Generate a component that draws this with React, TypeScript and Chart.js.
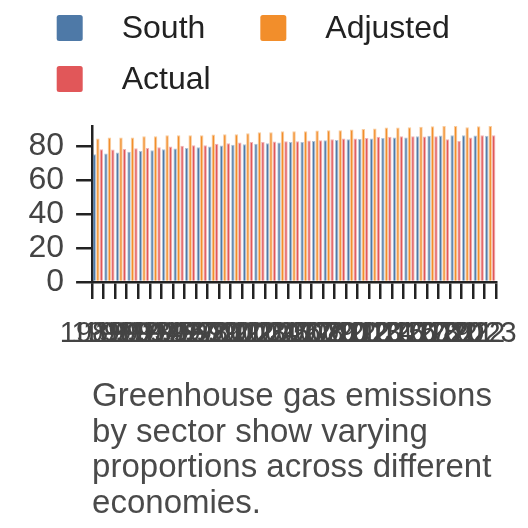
import { useEffect, useRef } from "react";
import { Chart, registerables } from "chart.js";

Chart.register(...registerables);

const YEARS = [
  "1989", "1990", "1991", "1992", "1993", "1994", "1995", "1996", "1997", "1998",
  "1999", "2000", "2001", "2002", "2003", "2004", "2005", "2006", "2007", "2008",
  "2009", "2010", "2011", "2012", "2013", "2014", "2015", "2016", "2017", "2018",
  "2019", "2020", "2021", "2022", "2023",
];

const SOUTH = [
  75.3, 75.7, 76.3, 76.7, 77.1, 77.6, 78.2, 78.6, 79.0, 79.4,
  79.8, 80.4, 80.8, 81.2, 81.4, 81.8, 82.2, 82.5, 82.5, 83.1,
  83.5, 83.7, 84.1, 84.3, 84.5, 84.9, 85.1, 85.1, 85.9, 86.1,
  86.3, 86.5, 86.5, 86.3, 86.1,
];

const ADJUSTED = [
  84.5, 85.1, 85.1, 85.1, 85.9, 85.9, 86.5, 86.5, 86.5, 86.5,
  86.9, 87.1, 87.1, 87.6, 88.2, 88.2, 88.8, 88.8, 88.8, 89.2,
  89.4, 89.4, 89.8, 90.2, 90.4, 91.0, 91.0, 91.2, 91.4, 91.8,
  91.9, 91.9, 91.2, 91.8, 91.9,
];

const ACTUAL = [
  78.2, 78.0, 78.4, 78.8, 79.0, 79.4, 79.8, 80.2, 80.6, 80.6,
  81.4, 81.8, 82.2, 82.4, 82.5, 82.7, 82.9, 82.9, 83.3, 83.5,
  84.1, 84.5, 84.5, 84.9, 85.5, 85.5, 85.9, 85.9, 85.7, 85.9,
  84.1, 83.1, 85.1, 86.5, 86.5,
];

const SERIES_LABELS = ["South", "Adjusted", "Actual"];

const Y_STEP = 20;

const TITLE_LINES = [
  "Greenhouse gas emissions",
  "by sector show varying",
  "proportions across different",
  "economies.",
];

const FONT = '"Liberation Sans", Arial, Helvetica, sans-serif';
const COLORS = ["#4e79a7", "#f28e2b", "#e15759"];
const EDGE_COLORS = [
  "rgba(78,121,167,0.45)",
  "rgba(242,142,43,0.45)",
  "rgba(225,87,89,0.45)",
];

const LEGEND = {
  left: 48.7,
  top: 7,
  box: 26,
  textGap: 39,
  baseline: 23.3,
  rowStep: 51,
  itemGap: 55,
  maxRight: 504,
  fontSize: 32,
  color: "#222222",
};

const flowLegend = {
  id: "flowLegend",
  afterDraw(chart: any) {
    const ctx: CanvasRenderingContext2D = chart.ctx;
    ctx.save();
    ctx.font = `${LEGEND.fontSize}px ${FONT}`;
    ctx.textAlign = "left";
    ctx.textBaseline = "alphabetic";
    let x = LEGEND.left;
    let y = LEGEND.top;
    chart.data.datasets.forEach((ds: any) => {
      const label = String(ds.label);
      const w = LEGEND.box + LEGEND.textGap + ctx.measureText(label).width;
      if (x > LEGEND.left && x + w > LEGEND.maxRight) {
        x = LEGEND.left;
        y += LEGEND.rowStep;
      }
      ctx.fillStyle = ds.backgroundColor;
      ctx.beginPath();
      if ((ctx as any).roundRect) {
        (ctx as any).roundRect(x, y, LEGEND.box, LEGEND.box, 2.5);
      } else {
        ctx.rect(x, y, LEGEND.box, LEGEND.box);
      }
      ctx.fill();
      ctx.fillStyle = LEGEND.color;
      ctx.fillText(label, x + LEGEND.box + LEGEND.textGap, y + LEGEND.baseline);
      x += w + LEGEND.itemGap;
    });
    ctx.restore();
  },
};

export default function App() {
  const canvasRef = useRef<HTMLCanvasElement | null>(null);

  useEffect(() => {
    if (!canvasRef.current) return;
    const seriesValues = [SOUTH, ADJUSTED, ACTUAL];
    const dataMax = Math.max(...SOUTH, ...ADJUSTED, ...ACTUAL);
    const chart = new Chart(canvasRef.current, {
      type: "bar",
      data: {
        labels: YEARS,
        datasets: SERIES_LABELS.map((label, i) => ({
          label,
          data: seriesValues[i],
          backgroundColor: COLORS[i],
          borderColor: EDGE_COLORS[i],
          borderWidth: 1,
          categoryPercentage: 0.9,
          barPercentage: 1.0,
        })),
      },
      options: {
        animation: false,
        responsive: true,
        maintainAspectRatio: false,
        layout: { padding: { top: 118, left: 8.5, right: 24, bottom: 0 } },
        font: { family: FONT },
        plugins: {
          legend: { display: false },
          tooltip: { enabled: false },
          title: {
            display: true,
            position: "bottom",
            align: "start",
            fullSize: false,
            text: TITLE_LINES,
            color: "#4a4a4a",
            font: { family: FONT, size: 33, lineHeight: 1.085, weight: "normal" },
            padding: { top: 10, bottom: 1 },
          },
        },
        scales: {
          x: {
            grid: {
              display: true,
              drawOnChartArea: false,
              drawTicks: true,
              tickLength: 17,
              color: "#222222",
              lineWidth: 2.5,
            },
            border: { display: true, color: "#222222", width: 2.5 },
            ticks: {
              autoSkip: false,
              maxRotation: 0,
              minRotation: 0,
              padding: 17.5,
              labelOffset: -5.75,
              color: "#444444",
              font: { family: FONT, size: 29 },
            },
            afterFit(scale: any) {
              scale.paddingLeft = 0;
              scale.paddingRight = 0;
            },
          },
          y: {
            min: 0,
            max: dataMax,
            grid: {
              display: true,
              drawOnChartArea: false,
              drawTicks: true,
              tickLength: 16,
              color: "#222222",
              lineWidth: 2.5,
            },
            border: { display: true, color: "#222222", width: 2.5 },
            ticks: {
              stepSize: Y_STEP,
              includeBounds: false,
              autoSkip: false,
              padding: 12,
              color: "#444444",
              font: { family: FONT, size: 32, lineHeight: 0.8 },
            },
          },
        },
      },
      plugins: [flowLegend],
    } as any);
    return () => chart.destroy();
  }, []);

  return (
    <div style={{ position: "relative", width: 512, height: 515 }}>
      <canvas ref={canvasRef} />
    </div>
  );
}
